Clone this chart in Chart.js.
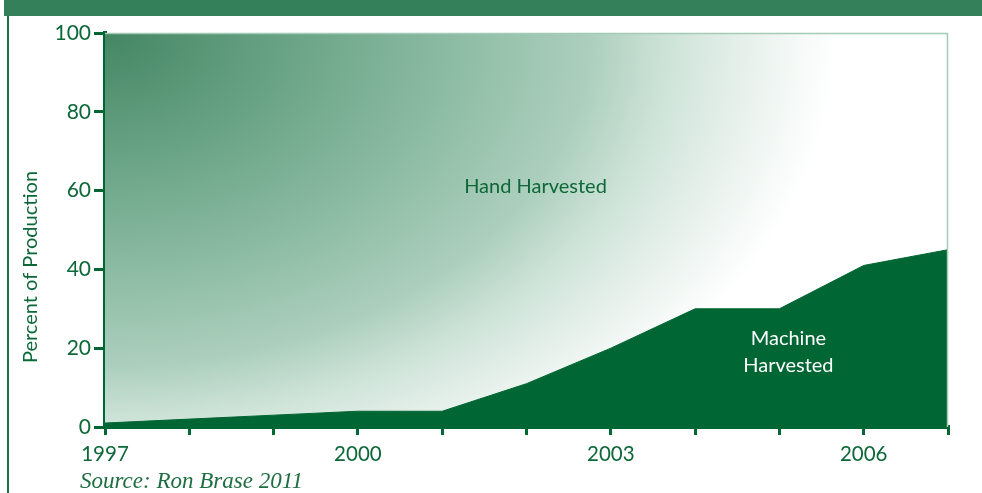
<!DOCTYPE html>
<html>
<head>
<meta charset="utf-8">
<script src="https://cdn.jsdelivr.net/npm/chart.js@4.4.1/dist/chart.umd.min.js"></script>
<style>
  html, body { margin: 0; padding: 0; background: #ffffff; }
  #wrap { position: relative; width: 982px; height: 493px; overflow: hidden; }
  #banner { position: absolute; left: 4px; top: 0; width: 978px; height: 16px; background: #33805a; }
  #leftline { position: absolute; left: 7px; top: 16px; width: 2px; height: 477px; background: #1f7044; }
  #source { position: absolute; left: 80px; top: 467px; font-family: "Liberation Serif", serif; font-style: italic;
            font-size: 23px; color: #1e6e42; line-height: 28px; white-space: nowrap; }
  canvas { position: absolute; left: 0; top: 0; }
</style>
</head>
<body>
<div id="wrap">
  <div id="banner"></div>
  <div id="leftline"></div>
  <canvas id="c" width="982" height="493"></canvas>
  <div id="source">Source: Ron Brase 2011</div>
</div>
<script>
// ---- data ----
const years = ['1997','1998','1999','2000','2001','2002','2003','2004','2005','2006','2007'];
const machineHarvested = [1, 2, 3, 4, 4, 11, 20, 30, 30, 41, 45];
const totalProduction = [100, 100, 100, 100, 100, 100, 100, 100, 100, 100, 100];
const xTickLabels = ['1997', '2000', '2003', '2006'];
const yTicks = [0, 20, 40, 60, 80, 100];
const yAxisTitle = 'Percent of Production';
const handLabel = 'Hand Harvested';
const machineLabel = ['Machine', 'Harvested'];

const GREEN = '#006633';
const TEXT = '#0d6838';
const FONT = 'Lato, "Open Sans", sans-serif';

let cachedPattern = null, cachedKey = '';
function handFill(ctx) {
  const chart = ctx.chart;
  const ca = chart.chartArea;
  if (!ca) return 'rgba(0,0,0,0)';
  const key = [ca.left, ca.top, ca.right, ca.bottom, chart.width, chart.height].join(',');
  if (cachedPattern && key === cachedKey) return cachedPattern;
  const off = document.createElement('canvas');
  off.width = chart.width; off.height = chart.height;
  const o = off.getContext('2d');
  const cx = ca.left, cy = ca.top;
  const rx = (ca.right - ca.left) * 0.885, ry = (ca.bottom - ca.top) * 1.3;
  o.setTransform(rx, 0, 0, ry, cx, cy);
  const g = o.createRadialGradient(0, 0, 0, 0, 0, 1);
  g.addColorStop(0.00, 'rgb(68,134,100)');
  g.addColorStop(0.25, 'rgb(106,164,134)');
  g.addColorStop(0.50, 'rgb(146,191,168)');
  g.addColorStop(0.65, 'rgb(172,207,189)');
  g.addColorStop(0.76, 'rgb(207,228,217)');
  g.addColorStop(0.88, 'rgb(235,243,239)');
  g.addColorStop(0.98, 'rgb(255,255,255)');
  g.addColorStop(1.00, 'rgb(255,255,255)');
  o.fillStyle = g;
  o.fillRect(-cx / rx, -cy / ry, off.width / rx, off.height / ry);
  cachedPattern = chart.ctx.createPattern(off, 'no-repeat');
  cachedKey = key;
  return cachedPattern;
}

const decorations = {
  id: 'decorations',
  afterDatasetsDraw(chart) {
    const {ctx, chartArea: ca, scales} = chart;
    ctx.save();
    // light frame on top and right
    ctx.strokeStyle = '#a3cbb5';
    ctx.lineWidth = 1.5;
    ctx.beginPath();
    ctx.moveTo(ca.left, ca.top + 0.5);
    ctx.lineTo(ca.right - 0.5, ca.top + 0.5);
    ctx.lineTo(ca.right - 0.5, ca.bottom);
    ctx.stroke();
    // in-chart labels
    ctx.textAlign = 'center';
    ctx.textBaseline = 'middle';
    ctx.font = '20px ' + FONT;
    ctx.fillStyle = TEXT;
    const xs = scales.x, ys = scales.y;
    ctx.fillText(handLabel, xs.getPixelForValue(5) + 9, ys.getPixelForValue(61));
    ctx.fillStyle = '#ffffff';
    const mx = xs.getPixelForValue(8) + 9;
    ctx.fillText(machineLabel[0], mx, ys.getPixelForValue(22.5));
    ctx.fillText(machineLabel[1], mx, ys.getPixelForValue(15.7));
    ctx.restore();
  },
  afterDraw(chart) {
    const {ctx, chartArea: ca} = chart;
    ctx.save();
    ctx.translate(31, (ca.top + ca.bottom) / 2 + 37);
    ctx.rotate(-Math.PI / 2);
    ctx.textAlign = 'center';
    ctx.textBaseline = 'middle';
    ctx.font = '20px ' + FONT;
    ctx.fillStyle = TEXT;
    ctx.fillText(yAxisTitle, 0, 0);
    ctx.restore();
  }
};

new Chart(document.getElementById('c'), {
  type: 'line',
  data: {
    labels: years,
    datasets: [
      {
        label: 'Machine Harvested',
        data: machineHarvested,
        fill: 'origin',
        backgroundColor: GREEN,
        borderColor: GREEN,
        borderWidth: 1,
        pointRadius: 0,
        tension: 0
      },
      {
        label: 'Hand Harvested',
        data: totalProduction,
        fill: '-1',
        backgroundColor: handFill,
        borderWidth: 0,
        borderColor: 'rgba(0,0,0,0)',
        pointRadius: 0,
        tension: 0
      }
    ]
  },
  options: {
    responsive: false,
    animation: false,
    events: [],
    layout: { padding: { left: 0, top: 33, right: 34, bottom: 0 } },
    plugins: { legend: { display: false }, tooltip: { enabled: false }, title: { display: false } },
    scales: {
      x: {
        type: 'category',
        offset: false,
        afterFit(s) { s.height = 66; },
        border: { display: true, color: GREEN, width: 4 },
        grid: { display: true, drawOnChartArea: false, drawTicks: true, tickLength: 8, color: GREEN, lineWidth: 3, offset: false },
        ticks: {
          autoSkip: false, maxRotation: 0, padding: 7, color: TEXT,
          font: { family: FONT, size: 20.5 },
          callback(v, i) { return xTickLabels.includes(years[i]) ? years[i] : ''; }
        }
      },
      y: {
        min: 0, max: 100,
        afterFit(s) { s.width = 105; },
        afterBuildTicks(s) { s.ticks = yTicks.map(v => ({ value: v })); },
        border: { display: true, color: GREEN, width: 4 },
        grid: { display: true, drawOnChartArea: false, drawTicks: true, tickLength: 11, color: GREEN, lineWidth: 3 },
        ticks: { padding: 3, color: TEXT, font: { family: FONT, size: 21 } },
        title: { display: false }
      }
    }
  },
  plugins: [decorations]
});
</script>
</body>
</html>
